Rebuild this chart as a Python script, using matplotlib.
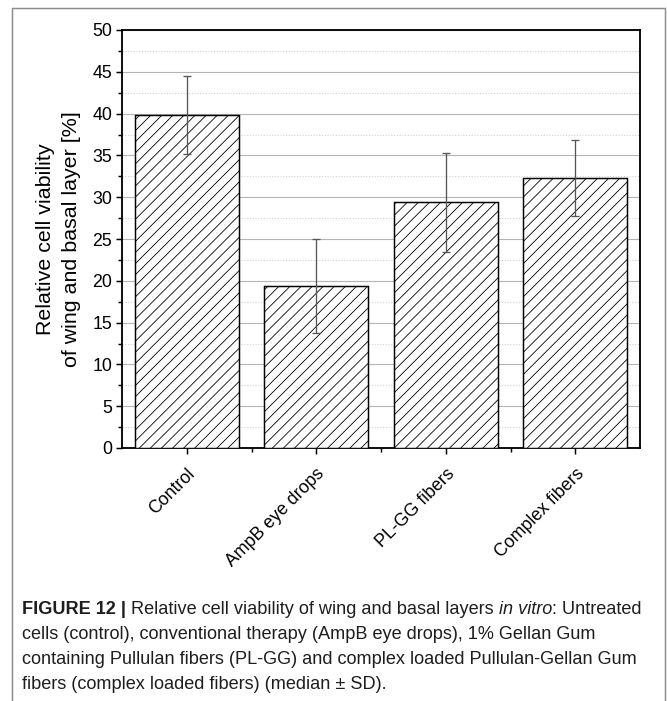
"""Viabilitat cel·lular relativa (figura 12) amb barres ratllades i llegenda a sota."""
import matplotlib
matplotlib.use("Agg")
import matplotlib.pyplot as plt
from matplotlib.patches import Rectangle
from matplotlib.ticker import FixedLocator, MultipleLocator

# dades llegides de la figura
categories = ["Control", "AmpB eye drops", "PL-GG fibers", "Complex fibers"]
viability = [39.8, 19.4, 29.4, 32.3]
viability_sd = [4.65, 5.6, 5.9, 4.5]

caption_line1 = [
    ("FIGURE 12 |", "bold", "normal"),
    ("Relative cell viability of wing and basal layers", "normal", "normal"),
    ("in vitro", "normal", "italic"),
]
caption_line1_tail = ": Untreated"
caption_rest = [
    "cells (control), conventional therapy (AmpB eye drops), 1% Gellan Gum",
    "containing Pullulan fibers (PL-GG) and complex loaded Pullulan-Gellan Gum",
    "fibers (complex loaded fibers) (median \u00b1 SD).",
]

DPI = 133
W, H = 667, 701
CHART_FONT = ["Liberation Sans", "DejaVu Sans"]
CAPTION_FONT = ["Liberation Sans", "DejaVu Sans"]

plt.rcParams["font.family"] = CHART_FONT
plt.rcParams["hatch.linewidth"] = 0.45
plt.rcParams["hatch.color"] = "#222222"

fig = plt.figure(figsize=(W / DPI, H / DPI), dpi=DPI)


def fx(px):
    return px / W


def fy(py):
    return 1 - py / H


# marc exterior gris
fig.patches.append(Rectangle((fx(12), fy(720)), fx(665) - fx(12), fy(8) - fy(720),
                             transform=fig.transFigure, fill=False,
                             edgecolor="#8c8c8c", linewidth=0.8))

ax = fig.add_axes([fx(122), fy(448), fx(640) - fx(122), fy(30) - fy(448)])
positions = list(range(1, len(categories) + 1))
ax.bar(positions, viability, width=0.8, color="white", edgecolor="black",
       linewidth=0.8, hatch="////", zorder=3)
ax.errorbar(positions, viability, yerr=viability_sd, fmt="none",
            ecolor="#555555", elinewidth=0.7, capsize=2.2, capthick=0.7, zorder=4)

ax.set_xlim(0.5, len(categories) + 0.5)
ax.set_ylim(0, 50)
ax.yaxis.set_major_locator(MultipleLocator(5))
ax.yaxis.set_minor_locator(MultipleLocator(2.5))
ax.xaxis.set_major_locator(FixedLocator(positions))
ax.xaxis.set_minor_locator(FixedLocator([p + 0.5 for p in positions[:-1]]))
ax.set_xticklabels(categories, rotation=45, ha="right", rotation_mode="anchor",
                   fontsize=9.6)
ax.tick_params(axis="both", which="major", direction="out", length=3.4,
               width=0.8, labelsize=9.6, pad=2)
ax.tick_params(axis="both", which="minor", direction="out", length=2.0, width=0.8)
ax.tick_params(axis="x", which="major", pad=6)

ax.grid(True, axis="y", which="major", color="#b4b4b4", linewidth=0.6, zorder=0)
ax.grid(True, axis="y", which="minor", color="#d2d2d2", linewidth=0.6,
        linestyle=(0, (1, 1.5)), zorder=0)
ax.set_axisbelow(True)
for s in ax.spines.values():
    s.set_linewidth(1.0)

ax.set_ylabel("Relative cell viability\nof wing and basal layer [%]",
              fontsize=11.6, labelpad=6, linespacing=1.45)

# llegenda de la figura, peça a peça; la mida s'ajusta a l'amplada de la línia 1
renderer = fig.canvas.get_renderer()


def _width(txt, size, weight="normal", style="normal"):
    t = fig.text(0, 0, txt, fontsize=size, family=CAPTION_FONT,
                 weight=weight, style=style)
    w = t.get_window_extent(renderer).width
    t.remove()
    return w


def _line1_width(size):
    sp = _width("x x", size) - _width("xx", size)
    total = sum(_width(t, size, w, s) for t, w, s in caption_line1)
    total += _width(caption_line1_tail, size) + sp * len(caption_line1[:-1])
    return total


cap_size = 10 * 618 / _line1_width(10)
space = _width("x x", cap_size) - _width("xx", cap_size)
x = 22
base = [614, 639, 664, 689]
for txt, weight, style in caption_line1:
    t = fig.text(fx(x), fy(base[0]), txt, fontsize=cap_size, family=CAPTION_FONT,
                 weight=weight, style=style, va="baseline", color="#1e1e1e")
    x = t.get_window_extent(renderer).x1 + space
fig.text(fx(x - space), fy(base[0]), caption_line1_tail, fontsize=cap_size,
         family=CAPTION_FONT, va="baseline", color="#1e1e1e")
for line, b in zip(caption_rest, base[1:]):
    fig.text(fx(22), fy(b), line, fontsize=cap_size, family=CAPTION_FONT,
             va="baseline", color="#1e1e1e")

fig.savefig("out.png", dpi=DPI)
